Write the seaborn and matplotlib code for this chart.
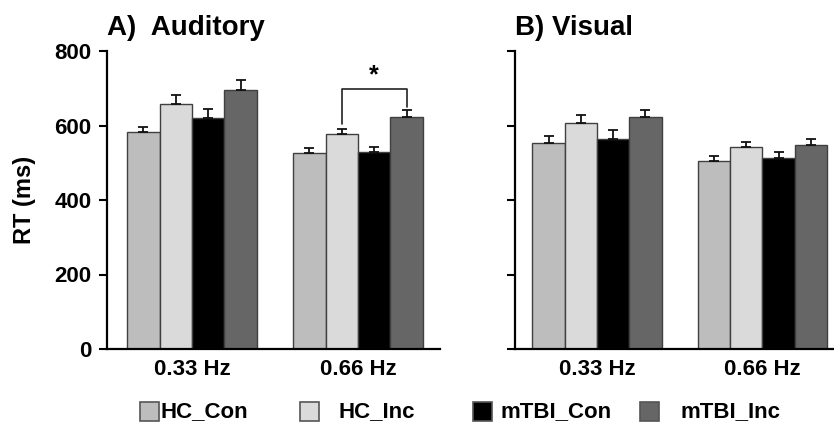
import pandas as pd
import matplotlib.pyplot as plt
from matplotlib.patches import Rectangle
import seaborn as sns

groups = ["HC_Con", "HC_Inc", "mTBI_Con", "mTBI_Inc"]
freqs = ["0.33 Hz", "0.66 Hz"]

# mean RT (ms) per group, for 0.33 Hz and 0.66 Hz
aud_033 = [583, 659, 621, 695]
aud_066 = [525, 577, 528, 622]
vis_033 = [554, 607, 564, 622]
vis_066 = [505, 543, 513, 547]

# upper error bars (ms)
aud_err_033 = [14, 24, 23, 27]
aud_err_066 = [15, 13, 14, 19]
vis_err_033 = [18, 21, 24, 20]
vis_err_066 = [14, 14, 16, 18]

colors = ["#bdbdbd", "#dadada", "#000000", "#666666"]
edge = "#404040"


def make_df(v033, v066):
    rows = []
    for g, a, b in zip(groups, v033, v066):
        rows.append({"freq": freqs[0], "group": g, "rt": a})
        rows.append({"freq": freqs[1], "group": g, "rt": b})
    return pd.DataFrame(rows)


sns.set_style("ticks")
plt.rcParams["font.family"] = ["Liberation Sans", "DejaVu Sans"]
plt.rcParams["font.weight"] = "bold"
for key in ["text.color", "axes.labelcolor", "xtick.color", "ytick.color", "axes.edgecolor"]:
    plt.rcParams[key] = "black"

W, H = 834, 423
fig = plt.figure(figsize=(W / 100, H / 100), dpi=100)


def px_axes(x0, x1, ytop, ybot):
    return fig.add_axes([x0 / W, 1 - ybot / H, (x1 - x0) / W, (ybot - ytop) / H])


ax_a = px_axes(107, 440, 51, 349)
ax_b = px_axes(515, 834, 51, 349)

panels = [
    (ax_a, make_df(aud_033, aud_066), aud_err_033, aud_err_066, "A)  Auditory", (-0.512, 1.494)),
    (ax_b, make_df(vis_033, vis_066), vis_err_033, vis_err_066, "B) Visual", (-0.495, 1.432)),
]

bar_sets = {}
for ax, df, e033, e066, title, xlim in panels:
    sns.barplot(data=df, x="freq", y="rt", hue="group", hue_order=groups,
                palette=colors, width=0.78, edgecolor=edge, linewidth=1.0,
                errorbar=None, legend=False, ax=ax)
    bars = list(ax.containers)
    bar_sets[ax] = bars
    for i, cont in enumerate(bars):
        for j, bar in enumerate(cont):
            err = [e033, e066][j][i]
            xc = bar.get_x() + bar.get_width() / 2
            ax.errorbar(xc, bar.get_height(), yerr=[[0], [err]], fmt="none",
                        ecolor="#111111", elinewidth=1.3, capsize=3.5,
                        capthick=1.3, zorder=1)
    ax.set_ylim(0, 800)
    ax.set_xlim(*xlim)
    ax.set_yticks([0, 200, 400, 600, 800])
    ax.set_xlabel("")
    ax.set_ylabel("")
    ax.tick_params(axis="x", length=0, pad=7, labelsize=16)
    ax.tick_params(axis="y", length=6, width=1.5, pad=5, labelsize=16, direction="out")
    for lab in ax.get_xticklabels() + ax.get_yticklabels():
        lab.set_fontweight("bold")
    sns.despine(ax=ax)
    ax.spines["left"].set_linewidth(1.6)
    ax.spines["bottom"].set_linewidth(1.6)
    ax.text(0, 1 + 16 / 298, title, transform=ax.transAxes, fontsize=20,
            fontweight="bold", ha="left", va="baseline")

ax_b.set_yticklabels([])
ax_a.set_ylabel("RT (ms)", fontsize=17, fontweight="bold")
ax_a.yaxis.set_label_coords(-0.214, 0.5)

# significance bracket between HC_Inc and mTBI_Inc at 0.66 Hz
bar_l = bar_sets[ax_a][1][1]
bar_r = bar_sets[ax_a][3][1]
xl = bar_l.get_x() + bar_l.get_width() / 2
xr = bar_r.get_x() + bar_r.get_width() / 2
y_top = 697
ax_a.plot([xl, xl, xr, xr], [aud_066[1] + aud_err_066[1] + 14, y_top, y_top,
                             aud_066[3] + aud_err_066[3] + 9],
          color="#222222", lw=1.2)
ax_a.text((xl + xr) / 2, y_top + 6, "*", ha="center", va="bottom",
          fontsize=18, fontweight="bold")

# legend row
patch_x = [140, 300, 473, 640]
text_x = [161, 339, 500, 680]
for g, c, px, tx in zip(groups, colors, patch_x, text_x):
    fig.add_artist(Rectangle((px / W, 1 - 421 / H), 19 / W, 19 / H,
                             transform=fig.transFigure, facecolor=c,
                             edgecolor="#555555", linewidth=1.2))
    fig.text(tx / W, 1 - 412 / H, g, fontsize=16, fontweight="bold",
             ha="left", va="center")

fig.savefig("out.png", dpi=100)
